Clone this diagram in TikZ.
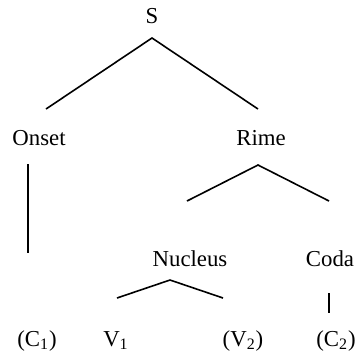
\documentclass[tikz,border=0pt]{standalone}
\usepackage{fontspec}
\setmainfont{Liberation Serif}
\begin{document}
\begin{tikzpicture}[x=0.5pt,y=-0.5pt,
  lab/.style={inner sep=0pt,anchor=base,font=\fontsize{11.4}{13}\selectfont},
  edge/.style={line width=0.8pt}]
\useasboundingbox (0,0) rectangle (357,355);
\node[lab] (S) at (152,23) {S};
\node[lab] (onset) at (39,145) {Onset};
\node[lab] (rime) at (261,145) {Rime};
\node[lab] (nucleus) at (190,266) {Nucleus};
\node[lab] (coda) at (330,266) {Coda};
\node[lab] (c1) at (37,346) {(C\textsubscript{1})};
\node[lab] (v1) at (116,346) {V\textsubscript{1}};
\node[lab] (v2) at (243,346) {(V\textsubscript{2})};
\node[lab] (c2) at (336,346) {(C\textsubscript{2})};
\coordinate (sA) at (152,38);
\coordinate (sL) at (46,109);
\coordinate (sR) at (258,109);
\coordinate (oT) at (28,164);
\coordinate (oB) at (28,253);
\coordinate (rA) at (258,165);
\coordinate (rL) at (187,201);
\coordinate (rR) at (329,201);
\coordinate (nA) at (170,280);
\coordinate (nL) at (117,298);
\coordinate (nR) at (223,298);
\coordinate (cT) at (329,293);
\coordinate (cB) at (329,313);
\draw[edge] (sL) -- (sA) -- (sR);
\draw[edge] (oT) -- (oB);
\draw[edge] (rL) -- (rA) -- (rR);
\draw[edge] (nL) -- (nA) -- (nR);
\draw[edge] (cT) -- (cB);
\end{tikzpicture}
\end{document}
